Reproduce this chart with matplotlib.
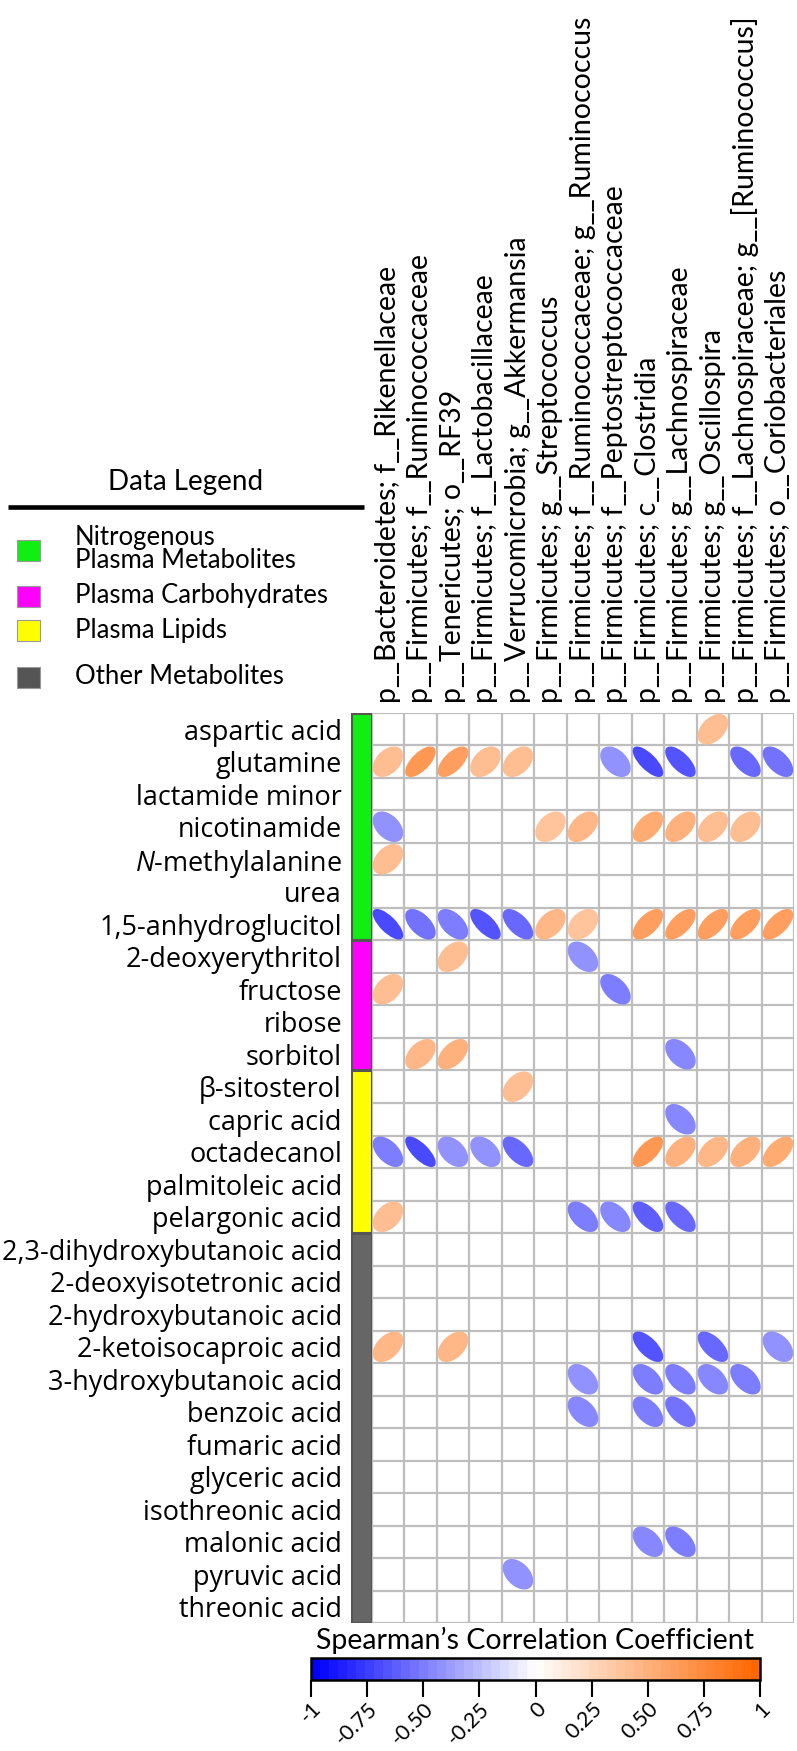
import numpy as np
import matplotlib
matplotlib.use("Agg")
import matplotlib.pyplot as plt
from matplotlib.patches import Ellipse, Rectangle
from matplotlib.colors import LinearSegmentedColormap, Normalize
from matplotlib.cm import ScalarMappable

plt.rcParams["font.family"] = ["Lato", "DejaVu Sans"]
plt.rcParams["mathtext.fontset"] = "custom"
plt.rcParams["mathtext.rm"] = "Open Sans"
plt.rcParams["mathtext.it"] = "Open Sans:italic"

taxa = [
    "p__Bacteroidetes; f__Rikenellaceae",
    "p__Firmicutes; f__Ruminococcaceae",
    "p__Tenericutes; o__RF39",
    "p__Firmicutes; f__Lactobacillaceae",
    "p__Verrucomicrobia; g__Akkermansia",
    "p__Firmicutes; g__Streptococcus",
    "p__Firmicutes; f__Ruminococcaceae; g__Ruminococcus",
    "p__Firmicutes; f__Peptostreptococcaceae",
    "p__Firmicutes; c__Clostridia",
    "p__Firmicutes; g__Lachnospiraceae",
    "p__Firmicutes; g__Oscillospira",
    "p__Firmicutes; f__Lachnospiraceae; g__[Ruminococcus]",
    "p__Firmicutes; o__Coriobacteriales",
]

metabolites = [
    "aspartic acid", "glutamine", "lactamide minor", "nicotinamide",
    "$\\mathit{N}$-methylalanine", "urea", "1,5-anhydroglucitol",
    "2-deoxyerythritol", "fructose", "ribose", "sorbitol",
    "β-sitosterol", "capric acid", "octadecanol", "palmitoleic acid", "pelargonic acid",
    "2,3-dihydroxybutanoic acid", "2-deoxyisotetronic acid", "2-hydroxybutanoic acid",
    "2-ketoisocaproic acid", "3-hydroxybutanoic acid", "benzoic acid", "fumaric acid",
    "glyceric acid", "isothreonic acid", "malonic acid", "pyruvic acid", "threonic acid",
]

group_labels = ["Plasma Carbohydrates", "Plasma Lipids", "Other Metabolites"]
group_sizes = [7, 4, 5, 12]
group_colors = ["#11EE11", "#FF00FF", "#FFFF00", "#666666"]

n = np.nan
corr = [
    [n, n, n, n, n, n, n, n, n, n, 0.42, n, n],
    [0.40, 0.65, 0.62, 0.40, 0.40, n, n, -0.42, -0.72, -0.66, n, -0.57, -0.55],
    [n, n, n, n, n, n, n, n, n, n, n, n, n],
    [-0.42, n, n, n, n, 0.38, 0.45, n, 0.52, 0.48, 0.42, 0.40, n],
    [0.40, n, n, n, n, n, n, n, n, n, n, n, n],
    [n, n, n, n, n, n, n, n, n, n, n, n, n],
    [-0.72, -0.55, -0.50, -0.66, -0.60, 0.45, 0.38, n, 0.60, 0.62, 0.60, 0.60, 0.62],
    [n, n, 0.40, n, n, n, -0.42, n, n, n, n, n, n],
    [0.40, n, n, n, n, n, n, -0.50, n, n, n, n, n],
    [n, n, n, n, n, n, n, n, n, n, n, n, n],
    [n, 0.45, 0.50, n, n, n, n, n, n, -0.45, n, n, n],
    [n, n, n, n, 0.40, n, n, n, n, n, n, n, n],
    [n, n, n, n, n, n, n, n, n, -0.45, n, n, n],
    [-0.52, -0.72, -0.42, -0.42, -0.58, n, n, n, 0.65, 0.48, 0.45, 0.48, 0.55],
    [n, n, n, n, n, n, n, n, n, n, n, n, n],
    [0.40, n, n, n, n, n, -0.50, -0.47, -0.62, -0.60, n, n, n],
    [n, n, n, n, n, n, n, n, n, n, n, n, n],
    [n, n, n, n, n, n, n, n, n, n, n, n, n],
    [n, n, n, n, n, n, n, n, n, n, n, n, n],
    [0.45, n, 0.45, n, n, n, n, n, -0.65, n, -0.60, n, -0.42],
    [n, n, n, n, n, n, -0.42, n, -0.50, -0.52, -0.45, -0.50, n],
    [n, n, n, n, n, n, -0.45, n, -0.50, -0.55, n, n, n],
    [n, n, n, n, n, n, n, n, n, n, n, n, n],
    [n, n, n, n, n, n, n, n, n, n, n, n, n],
    [n, n, n, n, n, n, n, n, n, n, n, n, n],
    [n, n, n, n, n, n, n, n, -0.45, -0.50, n, n, n],
    [n, n, n, n, -0.42, n, n, n, n, n, n, n, n],
    [n, n, n, n, n, n, n, n, n, n, n, n, n],
]

cmap = LinearSegmentedColormap.from_list("spear", ["#0000FF", "#FFFFFF", "#FF6600"], N=50)
norm = Normalize(-1, 1)

W, H = 797, 1751
fig = plt.figure(figsize=(W / 100, H / 100), dpi=100)

def fr(x0, y0, x1, y1):
    # pixel box -> figure fraction rect
    return [x0 / W, 1 - y1 / H, (x1 - x0) / W, (y1 - y0) / H]

nr, nc = len(metabolites), len(taxa)
grid_x0, grid_y0 = 371.7, 713
cell = 32.5

ax = fig.add_axes(fr(grid_x0, grid_y0, grid_x0 + nc * cell, grid_y0 + nr * cell))
ax.set_xlim(0, nc)
ax.set_ylim(nr, 0)
for s in ax.spines.values():
    s.set_visible(False)
ax.hlines(np.arange(nr + 1), 0, nc, color="#BEBEBE", lw=1.6, zorder=1)
ax.vlines(np.arange(nc + 1), 0, nr, color="#BEBEBE", lw=1.6, zorder=1)

sc = 0.47
for i in range(nr):
    for j in range(nc):
        r = corr[i][j]
        if np.isnan(r):
            continue
        d = np.arccos(r)
        a = sc * np.sqrt(2) * np.cos(d / 2)
        b = sc * np.sqrt(2) * np.sin(d / 2)
        e = Ellipse((j + 0.5, i + 0.5), 2 * a, 2 * b, angle=-45,
                    facecolor=cmap(norm(r)), edgecolor="none", zorder=2)
        ax.add_patch(e)

ax.set_yticks(np.arange(nr) + 0.5)
ax.set_yticklabels(metabolites, fontsize=17, family=["Open Sans", "DejaVu Sans"])
ax.tick_params(axis="y", length=0, pad=21.4)
ax.xaxis.tick_top()
ax.set_xticks(np.arange(nc) + 0.5)
ax.set_xticklabels(taxa, rotation=90, fontsize=20.5)
ax.tick_params(axis="x", length=0, pad=7)

# category bar
cax = fig.add_axes(fr(351, grid_y0, grid_x0, grid_y0 + nr * cell))
cax.set_xlim(0, 1)
cax.set_ylim(nr, 0)
cax.axis("off")
starts = np.cumsum([0] + group_sizes[:-1])
cax.bar(0.5, group_sizes, bottom=starts, width=1, color=group_colors,
        edgecolor="#555555", linewidth=2.2)

# legend
lax = fig.add_axes([0, 0, 1, 1], zorder=-1)
lax.set_xlim(0, W)
lax.set_ylim(H, 0)
lax.axis("off")
lax.text(186, 482, "Data Legend", ha="center", va="center", fontsize=20)
lax.plot([8, 364], [507, 507], color="black", lw=3.3, solid_capstyle="butt")
box_y = [550, 596, 630, 677]
legend_cols = [group_colors[0], group_colors[1], group_colors[2], "#555555"]
for y, c in zip(box_y, legend_cols):
    lax.add_patch(Rectangle((17, y - 10.5), 23, 21, facecolor=c, edgecolor="#999999", lw=0.8))
lax.text(75, 537, "Nitrogenous", ha="left", va="center", fontsize=18.5)
lax.text(75, 560, "Plasma Metabolites", ha="left", va="center", fontsize=18.5)
for y, t in zip([595, 630, 676], group_labels):
    lax.text(75, y, t, ha="left", va="center", fontsize=18.5)

# colorbar
bax = fig.add_axes(fr(311, 1658, 760, 1680))
cb = fig.colorbar(ScalarMappable(norm=norm, cmap=cmap), cax=bax, orientation="horizontal")
cb.set_ticks([-1, -0.75, -0.5, -0.25, 0, 0.25, 0.5, 0.75, 1])
cb.set_ticklabels(["-1", "-0.75", "-0.50", "-0.25", "0", "0.25", "0.50", "0.75", "1"])
cb.outline.set_linewidth(1.8)
bax.tick_params(axis="x", length=12, width=1.5, pad=1.5, labelsize=15.5)
for lab in bax.get_xticklabels():
    lab.set_rotation(45)
    lab.set_ha("right")
    lab.set_va("top")
    lab.set_rotation_mode("anchor")
fig.text(535.5 / W, 1 - 1640 / H, "Spearman\u2019s Correlation Coefficient",
         ha="center", va="center", fontsize=20.5)

# stretch row labels so the widest one spans the same width as in the original
fig.canvas.draw()
rend = fig.canvas.get_renderer()
widest = max(t.get_window_extent(rend).width for t in ax.get_yticklabels())
for t in ax.get_yticklabels():
    t.set_fontsize(17 * 340 / widest)

fig.savefig("out.png", dpi=100)
